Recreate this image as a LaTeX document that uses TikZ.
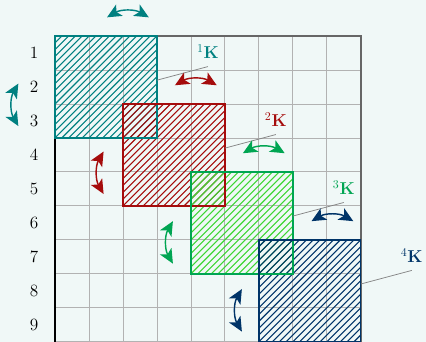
\documentclass[tikz,border=0pt]{standalone}
\usepackage{amsmath,amssymb}
\usepackage{tikz}
\usetikzlibrary{arrows.meta}

\definecolor{bgmint}{RGB}{240,248,247}
\definecolor{kteal}{RGB}{0,128,128}
\definecolor{kred}{RGB}{165,12,12}
\definecolor{kgreen}{RGB}{0,165,82}
\definecolor{klime}{RGB}{62,214,52}
\definecolor{kblue}{RGB}{0,52,104}

% hatched 3x3 block, lower left corner #1,#2
\newcommand{\hatchblock}[3]{%
  \begin{scope}
    \clip (#1,#2) rectangle ++(3,3);
    \foreach \s in {0,0.2,...,6.2}
      \draw[#3,line width=0.9pt] (#1-3+\s,#2) -- ++(3,3);
  \end{scope}}

\begin{document}
\begin{tikzpicture}[scale=1,every node/.style={font=\Large},
    swap/.style={line width=1.2pt,{Stealth[length=12pt,width=11pt,inset=3pt]}-{Stealth[length=12pt,width=11pt,inset=3pt]}},
    block/.style={line width=1.2pt},
    leader/.style={gray,line width=0.6pt}]
    \fill[bgmint] (-1.62,1.06) rectangle (10.92,-9.0);
    \useasboundingbox (-1.62,1.06) rectangle (10.92,-9.0);
    % grid and frame
    \draw[gray!60,line width=0.7pt] (0,-9) grid (9,0);
    \draw[black!60,line width=1.8pt] (0,0) -- (9,0) -- (9,-9);
    \draw[black,line width=1.4pt] (0,0) -- (0,-9);
    \foreach \r in {1,...,9}
      \node (row\r) at (-0.62,0.5-\r) {\r};
    % blocks
    \hatchblock{0}{-3}{kteal}
    \hatchblock{2}{-5}{kred}
    \hatchblock{4}{-7}{klime}
    \hatchblock{6}{-9}{kblue}
    \draw[block,kteal] (0,0) rectangle (3,-3);
    \draw[block,kred] (2,-2) rectangle (5,-5);
    \draw[block,kgreen] (4,-4) rectangle (7,-7);
    \draw[block,kblue] (6,-6) rectangle (9,-9);
    % labels
    \coordinate (b1) at (3,-1.3);
    \coordinate (b2) at (5,-3.3);
    \coordinate (b3) at (7,-5.3);
    \coordinate (b4) at (9,-7.3);
    \draw[leader] (b1) -- ++(1.5,0.4) node[above=3pt,kteal] (k1) {$^{1}\mathbf{K}$};
    \draw[leader] (b2) -- ++(1.5,0.4) node[above=3pt,kred] (k2) {$^{2}\mathbf{K}$};
    \draw[leader] (b3) -- ++(1.5,0.4) node[above=3pt,kgreen] (k3) {$^{3}\mathbf{K}$};
    \draw[leader] (b4) -- ++(1.5,0.4) node[above=3pt,kblue] (k4) {$^{4}\mathbf{K}$};
    % moves
    \draw[swap,kteal] (1.53,0.55) to[bend left=30] (2.76,0.55);
    \draw[swap,kteal] (-1.08,-1.4) to[bend right=30] (-1.08,-2.65);
    \draw[swap,kred] (3.53,-1.45) to[bend left=30] (4.76,-1.45);
    \draw[swap,kred] (1.43,-3.4) to[bend right=30] (1.43,-4.65);
    \draw[swap,kgreen] (5.53,-3.45) to[bend left=30] (6.76,-3.45);
    \draw[swap,kgreen] (3.47,-5.45) to[bend right=30] (3.47,-6.7);
    \draw[swap,kblue] (7.55,-5.45) to[bend left=30] (8.78,-5.45);
    \draw[swap,kblue] (5.5,-7.45) to[bend right=30] (5.5,-8.7);
  \end{tikzpicture}
\end{document}
